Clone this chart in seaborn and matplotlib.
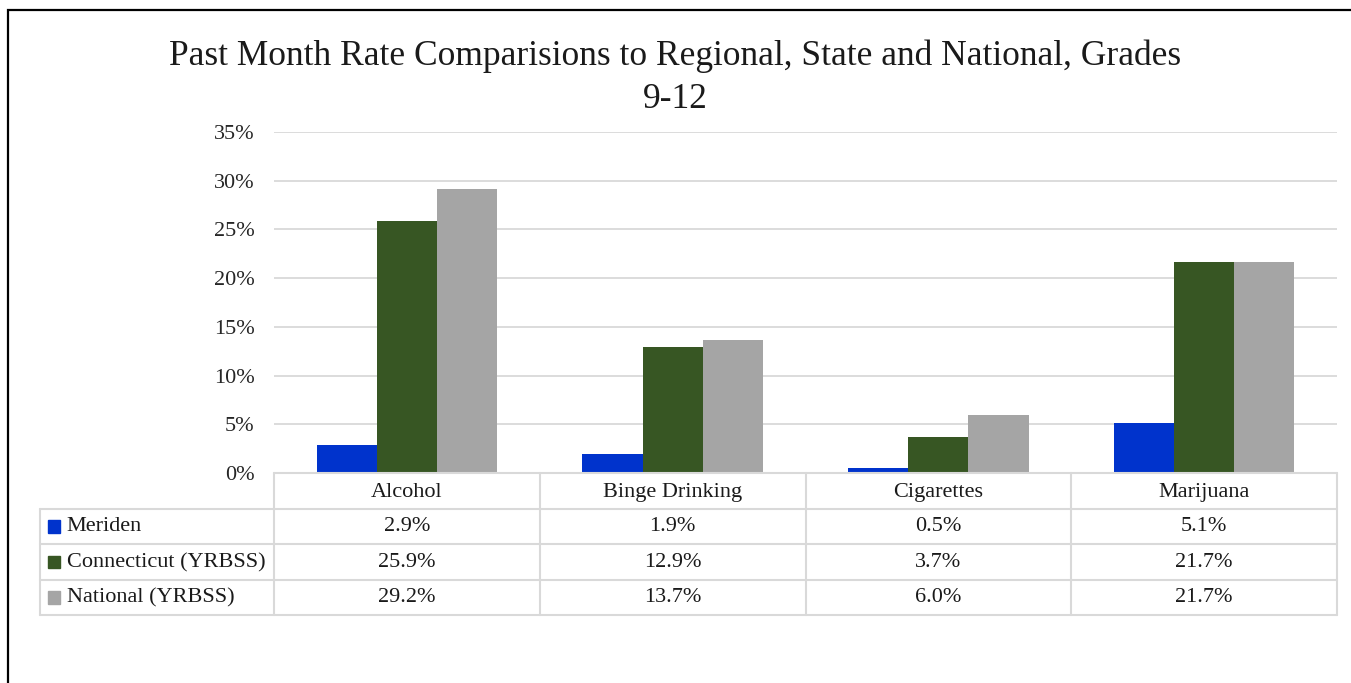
import matplotlib
matplotlib.use("Agg")
import matplotlib.pyplot as plt
import seaborn as sns
import pandas as pd
from matplotlib.patches import Rectangle

categories = ["Alcohol", "Binge Drinking", "Cigarettes", "Marijuana"]
series_names = ["Meriden", "Connecticut (YRBSS)", "National (YRBSS)"]
meriden = [2.9, 1.9, 0.5, 5.1]
connecticut = [25.9, 12.9, 3.7, 21.7]
national = [29.2, 13.7, 6.0, 21.7]
colors = ["#0033CC", "#375623", "#A5A5A5"]
title = "Past Month Rate Comparisions to Regional, State and National, Grades\n9-12"

values = [meriden, connecticut, national]
df = pd.DataFrame({
    "category": categories * 3,
    "series": [s for s in series_names for _ in categories],
    "value": meriden + connecticut + national,
})

sns.set_theme(style="white")
plt.rcParams["font.family"] = ["Liberation Serif", "DejaVu Serif"]

W, H = 1351, 683
fig = plt.figure(figsize=(W / 100, H / 100), dpi=100)

# plot area in pixels
px_l, px_r, px_t, px_b = 274, 1337, 132, 473
ax = fig.add_axes([px_l / W, 1 - px_b / H, (px_r - px_l) / W, (px_b - px_t) / H])
sns.barplot(data=df, x="category", y="value", hue="series", order=categories,
            hue_order=series_names, palette=colors, saturation=1, width=0.68,
            edgecolor="none", linewidth=0, legend=False, ax=ax, zorder=3)
ax.set_xlim(-0.5, 3.5)
ax.set_ylim(0, 35)
ax.set_yticks(range(0, 36, 5))
ax.set_yticklabels([f"{t}%" for t in range(0, 36, 5)], fontsize=16, color="#262626")
ax.set_xticks([])
ax.set_xlabel("")
ax.set_ylabel("")
ax.tick_params(axis="y", length=0, pad=14)
ax.grid(axis="y", color="#D9D9D9", linewidth=1.3, zorder=0)
for s in ax.spines.values():
    s.set_visible(False)

# data table
tb_t, tb_b, tb_l = 473, 615, 40
cat_w = (px_r - px_l) / 4
left_units = (px_l - tb_l) / cat_w
tax = fig.add_axes([tb_l / W, 1 - tb_b / H, (px_r - tb_l) / W, (tb_b - tb_t) / H])
tax.set_xlim(-0.5 - left_units, 3.5)
tax.set_ylim(4, 0)
tax.axis("off")
lc = "#D9D9D9"
lw = 1.5
x0 = -0.5 - left_units
# horizontal lines
tax.plot([-0.5, 3.5], [0, 0], color=lc, lw=lw, clip_on=False)
for r in [1, 2, 3, 4]:
    tax.plot([x0, 3.5], [r, r], color=lc, lw=lw, clip_on=False)
# vertical lines
tax.plot([x0, x0], [1, 4], color=lc, lw=lw, clip_on=False)
for c in range(5):
    tax.plot([c - 0.5, c - 0.5], [0, 4], color=lc, lw=lw, clip_on=False)
for i, cat in enumerate(categories):
    tax.text(i, 0.55, cat, ha="center", va="center", fontsize=16, color="#1a1a1a")
for r, (name, vals, col) in enumerate(zip(series_names, values, colors), start=1):
    tax.text(x0 + 0.1, r + 0.52, name, ha="left", va="center", fontsize=16, color="#1a1a1a")
    tax.add_patch(Rectangle((x0 + 0.03, r + 0.33), 0.045, 0.36, color=col, clip_on=False))
    for i, v in enumerate(vals):
        tax.text(i, r + 0.52, f"{v:.1f}%", ha="center", va="center", fontsize=16, color="#1a1a1a")

fig.text(0.5, 1 - 78 / H, title, ha="center", va="center", fontsize=25.5,
         color="#1a1a1a", linespacing=1.4)

fig.patches.append(Rectangle((8 / W, -0.2), 1.5, 1.2 - 10 / H, transform=fig.transFigure,
                             fill=False, edgecolor="black", linewidth=1.6))

fig.savefig("out.png", dpi=100)
